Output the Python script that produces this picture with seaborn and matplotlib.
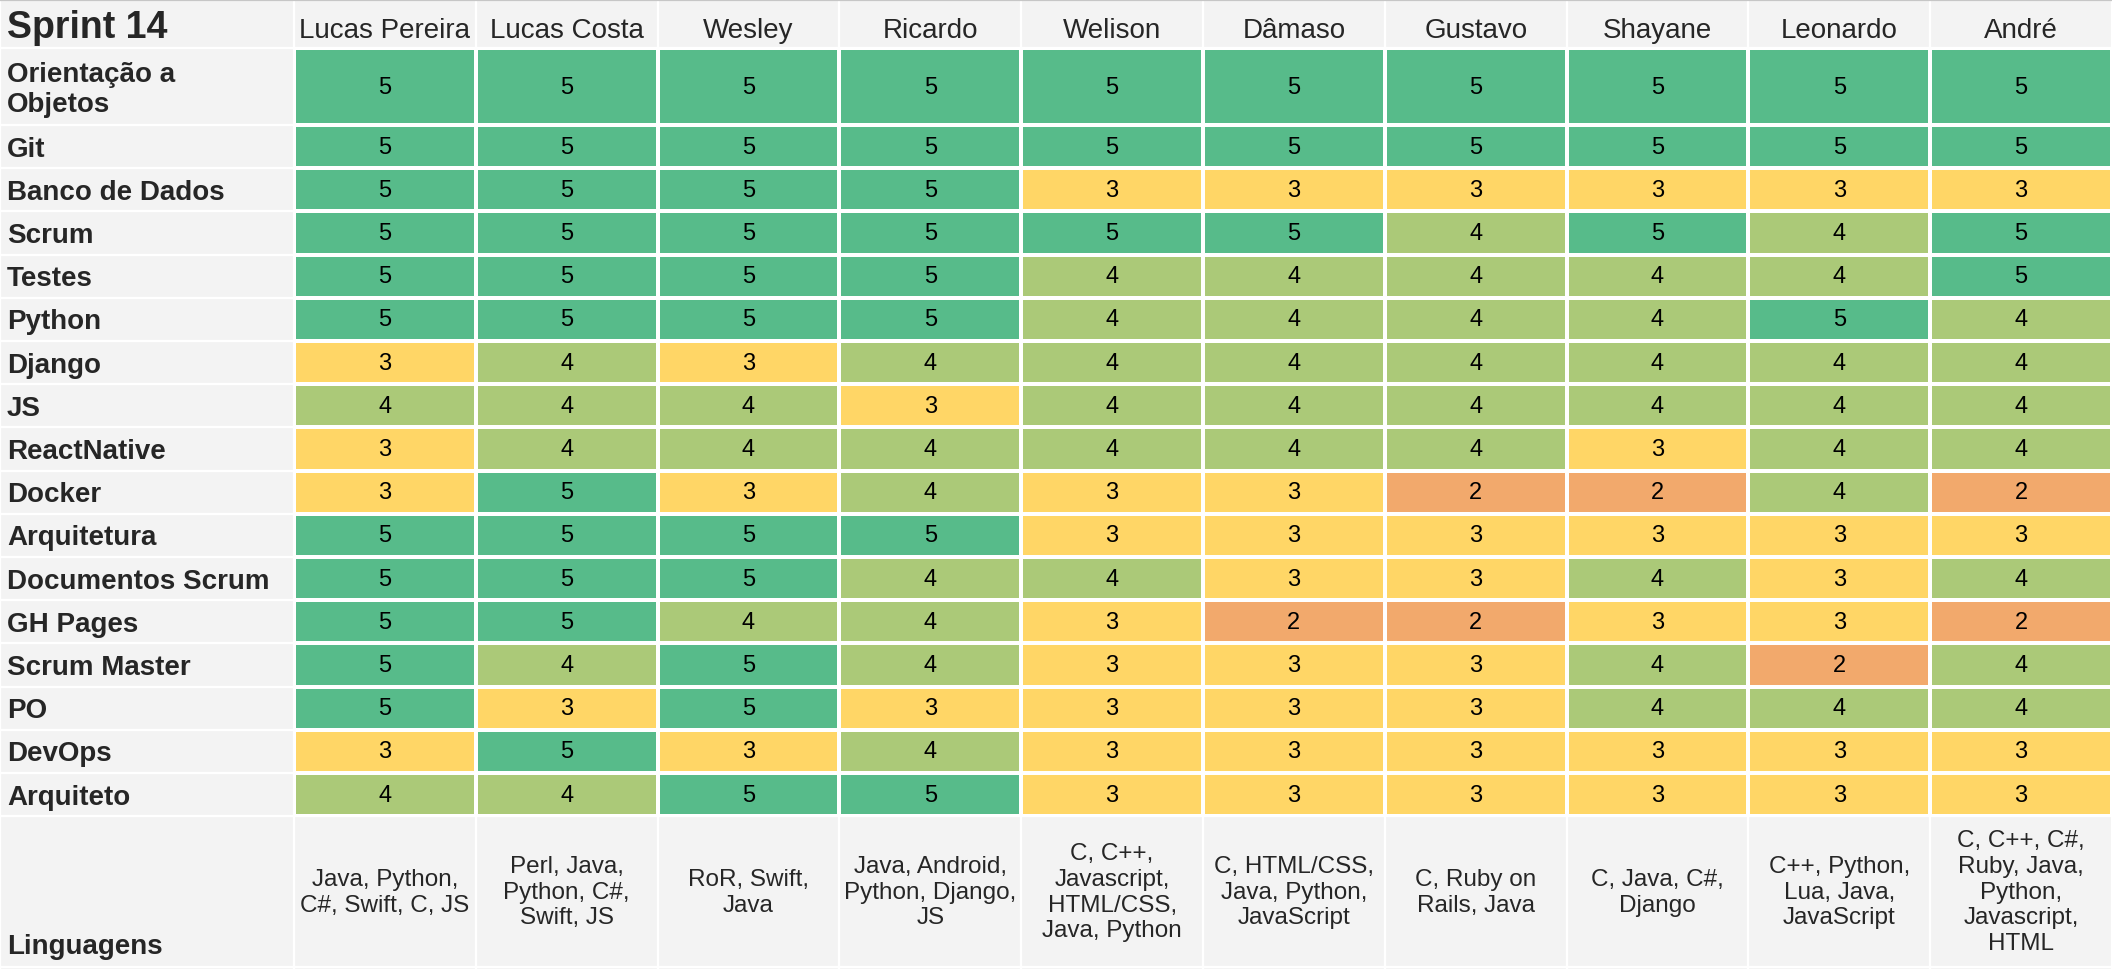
import numpy as np
import pandas as pd
import seaborn as sns
import matplotlib.pyplot as plt
from matplotlib.colors import ListedColormap
from matplotlib.patches import Rectangle

sns.set_style('white')
plt.rcParams['font.family'] = ['Liberation Sans', 'DejaVu Sans']

# Data
title = 'Sprint 14'
names = ['Lucas Pereira', 'Lucas Costa', 'Wesley', 'Ricardo', 'Welison',
         'Dâmaso', 'Gustavo', 'Shayane', 'Leonardo', 'André']
skills = ['Orientação a\nObjetos', 'Git', 'Banco de Dados', 'Scrum', 'Testes',
          'Python', 'Django', 'JS', 'ReactNative', 'Docker', 'Arquitetura',
          'Documentos Scrum', 'GH Pages', 'Scrum Master', 'PO', 'DevOps',
          'Arquiteto']
scores = [
    [5, 5, 5, 5, 5, 5, 5, 5, 5, 5],
    [5, 5, 5, 5, 5, 5, 5, 5, 5, 5],
    [5, 5, 5, 5, 3, 3, 3, 3, 3, 3],
    [5, 5, 5, 5, 5, 5, 4, 5, 4, 5],
    [5, 5, 5, 5, 4, 4, 4, 4, 4, 5],
    [5, 5, 5, 5, 4, 4, 4, 4, 5, 4],
    [3, 4, 3, 4, 4, 4, 4, 4, 4, 4],
    [4, 4, 4, 3, 4, 4, 4, 4, 4, 4],
    [3, 4, 4, 4, 4, 4, 4, 3, 4, 4],
    [3, 5, 3, 4, 3, 3, 2, 2, 4, 2],
    [5, 5, 5, 5, 3, 3, 3, 3, 3, 3],
    [5, 5, 5, 4, 4, 3, 3, 4, 3, 4],
    [5, 5, 4, 4, 3, 2, 2, 3, 3, 2],
    [5, 4, 5, 4, 3, 3, 3, 4, 2, 4],
    [5, 3, 5, 3, 3, 3, 3, 4, 4, 4],
    [3, 5, 3, 4, 3, 3, 3, 3, 3, 3],
    [4, 4, 5, 5, 3, 3, 3, 3, 3, 3],
]
lang_label = 'Linguagens'
languages = [
    'Java, Python,\nC#, Swift, C, JS',
    'Perl, Java,\nPython, C#,\nSwift, JS',
    'RoR, Swift,\nJava',
    'Java, Android,\nPython, Django,\nJS',
    'C, C++,\nJavascript,\nHTML/CSS,\nJava, Python',
    'C, HTML/CSS,\nJava, Python,\nJavaScript',
    'C, Ruby on\nRails, Java',
    'C, Java, C#,\nDjango',
    'C++, Python,\nLua, Java,\nJavaScript',
    'C, C++, C#,\nRuby, Java,\nPython,\nJavascript,\nHTML',
]

# colours of the sheet's colour scale (2..5)
cmap = ListedColormap(['#F2A96C', '#FFD666', '#ABC978', '#57BB8A'])

# layout in pixels
W, H = 2112, 970
label_w = 294
col_w = (W - label_w) / len(names)
header_h = 49
first_h = 77
row_h = 43.2
lang_h = 151
cell_bg = '#F3F3F3'

heights = [header_h, first_h] + [row_h] * (len(skills) - 1) + [lang_h]
y_edges = np.concatenate([[0], np.cumsum(heights)])
x_edges = label_w + col_w * np.arange(len(names) + 1)

df = pd.DataFrame(scores, index=skills, columns=names)

fig = plt.figure(figsize=(W / 100, H / 100), dpi=100)
fig.patch.set_facecolor(cell_bg)
bg = fig.add_axes([0, 0, 1, 1])
bg.set_xlim(0, W)
bg.set_ylim(H, 0)
bg.axis('off')
bg.add_patch(Rectangle((0, 0), W, H, color=cell_bg, zorder=0))
for y in y_edges[1:]:
    bg.axhline(y, color='white', lw=1.6)
for x in np.concatenate([[0], x_edges]):
    bg.axvline(x, color='white', lw=1.6)
bg.axhline(1, color='#C6C6C6', lw=1.6)


def draw_block(block, top, height):
    ax = fig.add_axes([label_w / W, 1 - (top + height) / H,
                       (W - label_w) / W, height / H])
    sns.heatmap(block, ax=ax, cmap=cmap, vmin=1.5, vmax=5.5, cbar=False,
                annot=True, fmt='d',
                annot_kws={'size': 17, 'color': 'black'},
                linewidths=1.6, linecolor='white',
                xticklabels=False, yticklabels=False)
    ax.set_xlabel('')
    ax.set_ylabel('')
    return ax


draw_block(df.iloc[:1], y_edges[1], first_h)
draw_block(df.iloc[1:], y_edges[2], row_h * (len(skills) - 1))

# header
bg.text(7, y_edges[1] / 2 + 3, title, ha='left', va='center',
        fontsize=27, fontweight='bold')
for i, name in enumerate(names):
    bg.text((x_edges[i] + x_edges[i + 1]) / 2, y_edges[1] / 2 + 6, name,
            ha='center', va='center', fontsize=20)

# row labels
for i, skill in enumerate(skills):
    bg.text(7, (y_edges[i + 1] + y_edges[i + 2]) / 2 + 2, skill, ha='left',
            va='center', fontsize=20, fontweight='bold', linespacing=1.2)

# languages row
bg.text(7, y_edges[-1] - 8, lang_label, ha='left', va='bottom',
        fontsize=20, fontweight='bold')
yc = (y_edges[-2] + y_edges[-1]) / 2
for i, lang in enumerate(languages):
    bg.text((x_edges[i] + x_edges[i + 1]) / 2, yc, lang, ha='center',
            va='center', fontsize=17.5, linespacing=1.22)

plt.savefig('out.png', dpi=100, facecolor=cell_bg)
